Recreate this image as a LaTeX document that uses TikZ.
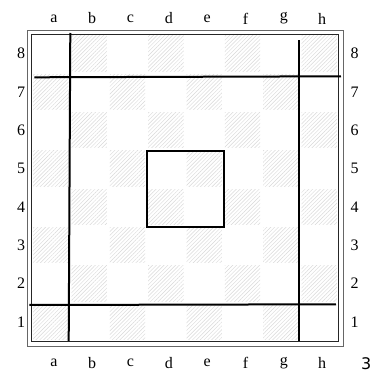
\documentclass[tikz,border=0pt]{standalone}
\usepackage{fontspec}
\setmainfont{Liberation Serif}
\newfontfamily\numfont{DejaVu Sans}
\usetikzlibrary{patterns.meta}
\begin{document}
\begin{tikzpicture}[x=1pt,y=-1pt,
  lbl/.style={inner sep=0pt,font=\fontsize{16}{18}\selectfont},
  frameout/.style={draw=black!60,line width=0.8pt},
  framein/.style={draw=black!85,line width=0.8pt},
  heavy/.style={draw=black,line width=2pt},
  hatch/.style={pattern={Lines[angle=45,distance=2.7pt,line width=0.45pt]},pattern color=black!15}]
\useasboundingbox (0,0) rectangle (376,372);
\fill[white] (0,0) rectangle (376,372);
\def\bx{31.7}\def\by{34.3}\def\sq{38.33}
\foreach \c in {0,...,7}{
  \foreach \r in {0,...,7}{
    \pgfmathtruncatemacro\parity{mod(\c+\r,2)}
    \ifnum\parity=1
      \fill[hatch] ({\bx+\c*\sq+1.5},{\by+\r*\sq+1.5}) rectangle ({\bx+(\c+1)*\sq-1.5},{\by+(\r+1)*\sq-1.5});
    \fi
  }
}
\draw[frameout] (27.3,30) rectangle (343.3,346.7);
\draw[framein] (31.7,34.3) rectangle (338.3,341);
\foreach \f [count=\i from 0] in {a,b,c,d,e,f,g,h}{
  \node[lbl] (top\f) at ({\bx+(\i+0.5)*\sq+3},18.5) {\f};
  \node[lbl] (bot\f) at ({\bx+(\i+0.5)*\sq+3},363) {\f};
}
\foreach \n [count=\i from 0] in {8,7,6,5,4,3,2,1}{
  \node[lbl] (left\n) at (21,{\by+(\i+0.5)*\sq}) {\n};
  \node[lbl] (right\n) at (354.5,{\by+(\i+0.5)*\sq}) {\n};
}
\coordinate (lvt) at (70.3,33);
\coordinate (lvb) at (68.7,341);
\coordinate (tha) at (34.3,77.3);
\coordinate (thb) at (341,76.3);
\coordinate (rvt) at (299.3,40);
\coordinate (rvb) at (299.3,341);
\coordinate (bha) at (29.3,305);
\coordinate (bhb) at (336,304.3);
\draw[heavy] (lvt) -- (lvb);
\draw[heavy] (tha) -- (thb);
\draw[heavy] (rvt) -- (rvb);
\draw[heavy] (bha) -- (bhb);
\draw[heavy,line width=2.2pt] (147.3,150.7) rectangle (224.3,227.3);
\node[inner sep=0pt,font=\numfont\fontsize{16}{18}\selectfont] (num) at (366.2,363.8) {3};
\end{tikzpicture}
\end{document}
